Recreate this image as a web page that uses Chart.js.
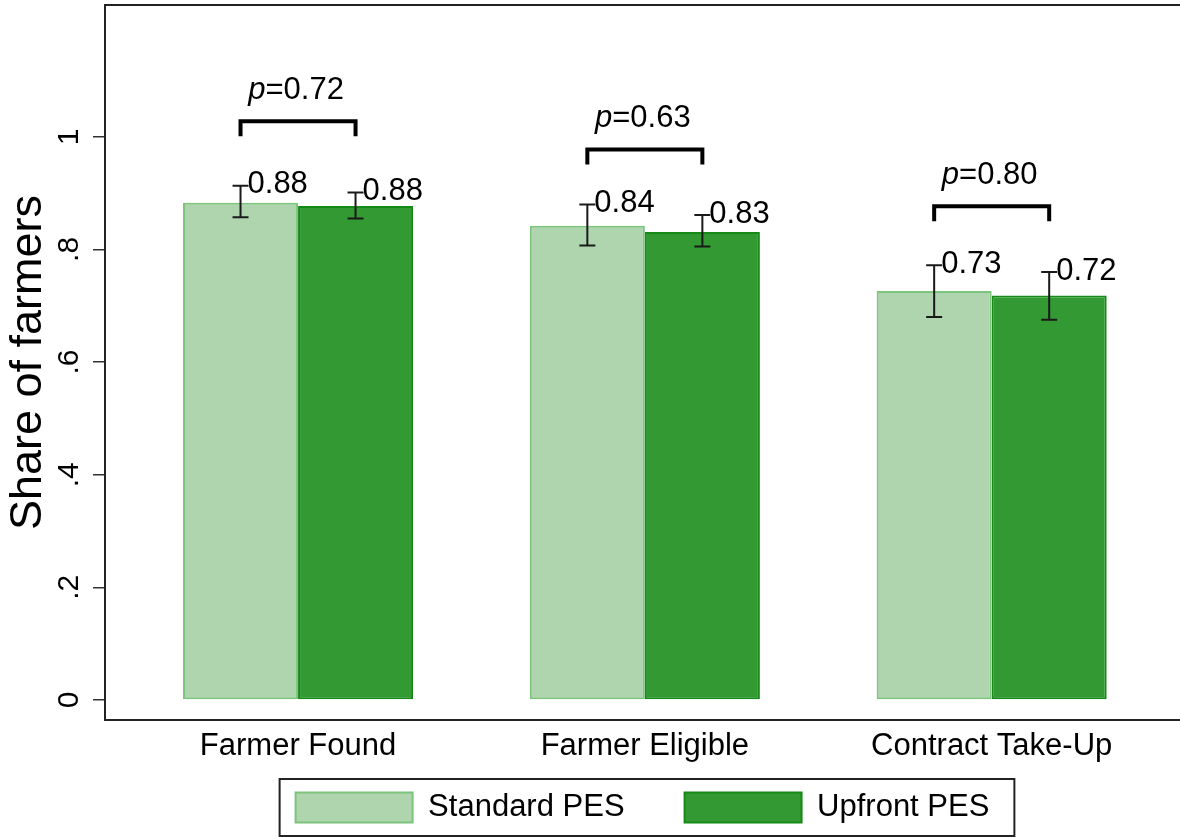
<!DOCTYPE html>
<html>
<head>
<meta charset="utf-8">
<script src="https://cdn.jsdelivr.net/npm/chart.js@4.4.1/dist/chart.umd.min.js"></script>
<style>
  html, body { margin: 0; padding: 0; background: #fff; }
  #wrap { width: 1180px; height: 837px; }
</style>
</head>
<body>
<div id="wrap"><canvas id="chart" width="1180" height="837"></canvas></div>
<script>
var categories = ['Farmer Found', 'Farmer Eligible', 'Contract Take-Up'];
var standardPES = [0.883, 0.842, 0.726];
var upfrontPES = [0.877, 0.831, 0.718];
var standardLow = [0.857, 0.807, 0.680];
var standardHigh = [0.913, 0.880, 0.772];
var upfrontLow = [0.855, 0.805, 0.675];
var upfrontHigh = [0.901, 0.861, 0.760];
var pValues = [0.72, 0.63, 0.80];
var bracketLevel = [1.001, 0.951, 0.850];
var yTicks = [0, 0.2, 0.4, 0.6, 0.8, 1];
var yTickLabels = ['0', '.2', '.4', '.6', '.8', '1'];

var FONT = '"Liberation Sans", Arial, Helvetica, sans-serif';
Chart.defaults.font.family = FONT;
Chart.defaults.color = '#000';

function points(values) {
    return values.map(function (v, i) { return { x: i, y: v }; });
}

// error bars, value labels, p-value brackets
var annotations = {
    id: 'annotations',
    beforeDraw: function (chart) {
        // x labels sit below a thin axis box (legend takes the space), so don't clip them
        chart.scales.x._computeLabelArea = function () { return undefined; };
    },
    afterDatasetsDraw: function (chart) {
        var ctx = chart.ctx, y = chart.scales.y;
        var lows = [standardLow, upfrontLow], highs = [standardHigh, upfrontHigh], vals = [standardPES, upfrontPES];
        ctx.save();
        for (var d = 0; d < 2; d++) {
            var meta = chart.getDatasetMeta(d);
            meta.data.forEach(function (bar, i) {
                var x = bar.x;
                var top = y.getPixelForValue(highs[d][i]);
                var bot = y.getPixelForValue(lows[d][i]);
                ctx.strokeStyle = '#1a1a1a';
                ctx.lineWidth = 2;
                ctx.beginPath();
                ctx.moveTo(x, top); ctx.lineTo(x, bot);
                ctx.moveTo(x - 8, top); ctx.lineTo(x + 8, top);
                ctx.moveTo(x - 8, bot); ctx.lineTo(x + 8, bot);
                ctx.stroke();
                ctx.fillStyle = '#000';
                ctx.font = '31px ' + FONT;
                ctx.textAlign = 'left';
                ctx.textBaseline = 'middle';
                ctx.fillText(vals[d][i].toFixed(2), x + 7, top - 1);
            });
        }
        var m0 = chart.getDatasetMeta(0), m1 = chart.getDatasetMeta(1);
        categories.forEach(function (c, i) {
            var x1 = m0.data[i].x, x2 = m1.data[i].x;
            var yb = y.getPixelForValue(bracketLevel[i]), yt = yb - 15;
            ctx.lineWidth = 4;
            ctx.strokeStyle = '#000';
            ctx.lineJoin = 'miter';
            ctx.beginPath();
            ctx.moveTo(x1, yb); ctx.lineTo(x1, yt); ctx.lineTo(x2, yt); ctx.lineTo(x2, yb);
            ctx.stroke();
            var rest = '=' + pValues[i].toFixed(2);
            ctx.font = 'italic 31px ' + FONT;
            var wp = ctx.measureText('p').width;
            ctx.font = '31px ' + FONT;
            var wr = ctx.measureText(rest).width;
            var sx = (x1 + x2) / 2 - (wp + wr) / 2 - 2, by = yt - 22;
            ctx.textAlign = 'left';
            ctx.textBaseline = 'alphabetic';
            ctx.font = 'italic 31px ' + FONT;
            ctx.fillText('p', sx, by);
            ctx.font = '31px ' + FONT;
            ctx.fillText(rest, sx + wp, by);
        });
        ctx.restore();
    },
    afterDraw: function (chart) {
        var ctx = chart.ctx, a = chart.chartArea;
        ctx.save();
        ctx.strokeStyle = '#222';
        ctx.lineWidth = 2;
        ctx.beginPath();
        ctx.moveTo(a.left - 1, a.top);
        ctx.lineTo(a.right, a.top);
        ctx.stroke();
        var hb = chart.legend.legendHitBoxes;
        if (hb && hb.length) {
            var first = hb[0], last = hb[hb.length - 1];
            var l = first.left - 16, r = last.left + last.width + 25;
            var t = first.top - 13, b = first.top + first.height + 13;
            ctx.strokeRect(l, t, r - l, b - t);
        }
        ctx.restore();
    }
};

new Chart(document.getElementById('chart').getContext('2d'), {
    type: 'bar',
    data: {
        datasets: [
            {
                label: 'Standard PES',
                data: points(standardPES),
                backgroundColor: '#aed5ad',
                borderColor: '#7cc47b',
                borderWidth: 2,
                borderSkipped: false,
                categoryPercentage: 0.6633,
                barPercentage: 1
            },
            {
                label: 'Upfront PES',
                data: points(upfrontPES),
                backgroundColor: '#339933',
                borderColor: '#168a16',
                borderWidth: 2,
                borderSkipped: false,
                categoryPercentage: 0.6633,
                barPercentage: 1
            }
        ]
    },
    options: {
        responsive: false,
        animation: false,
        layout: { padding: { top: 5, left: 0, right: 0, bottom: 4 } },
        plugins: {
            legend: {
                position: 'bottom',
                fullSize: false,
                labels: { boxWidth: 117, boxHeight: 30, padding: 60, font: { size: 31 }, color: '#000' }
            },
            tooltip: { enabled: false }
        },
        scales: {
            x: {
                type: 'linear',
                offset: false,
                min: -0.5566,
                max: 2.543,
                afterBuildTicks: function (s) { s.ticks = categories.map(function (c, i) { return { value: i }; }); },
                afterFit: function (s) { s.height = 12; s.paddingLeft = 0; s.paddingRight = 0; },
                grid: { display: false, drawTicks: false, offset: false },
                border: { display: true, color: '#222', width: 2 },
                ticks: {
                    autoSkip: false, maxRotation: 0, padding: 8,
                    font: { size: 31 }, color: '#000',
                    callback: function (v, i) { return categories[i]; }
                }
            },
            y: {
                min: -0.0355,
                max: 1.234,
                afterBuildTicks: function (s) { s.ticks = yTicks.map(function (v) { return { value: v }; }); },
                afterFit: function (s) { s.width = 105; s.paddingTop = 0; s.paddingBottom = 0; },
                grid: { display: true, drawOnChartArea: false, drawTicks: true, tickLength: 12, color: '#333', lineWidth: 1.5 },
                border: { display: true, color: '#222', width: 2 },
                ticks: {
                    minRotation: 90, maxRotation: 90, crossAlign: 'center', padding: 11,
                    font: { size: 30 }, color: '#000',
                    callback: function (v, i) { return yTickLabels[i]; }
                },
                title: { display: true, text: 'Share of farmers', font: { size: 45 }, color: '#000', padding: { top: 2, bottom: 0 } }
            }
        }
    },
    plugins: [annotations]
});
</script>
</body>
</html>
